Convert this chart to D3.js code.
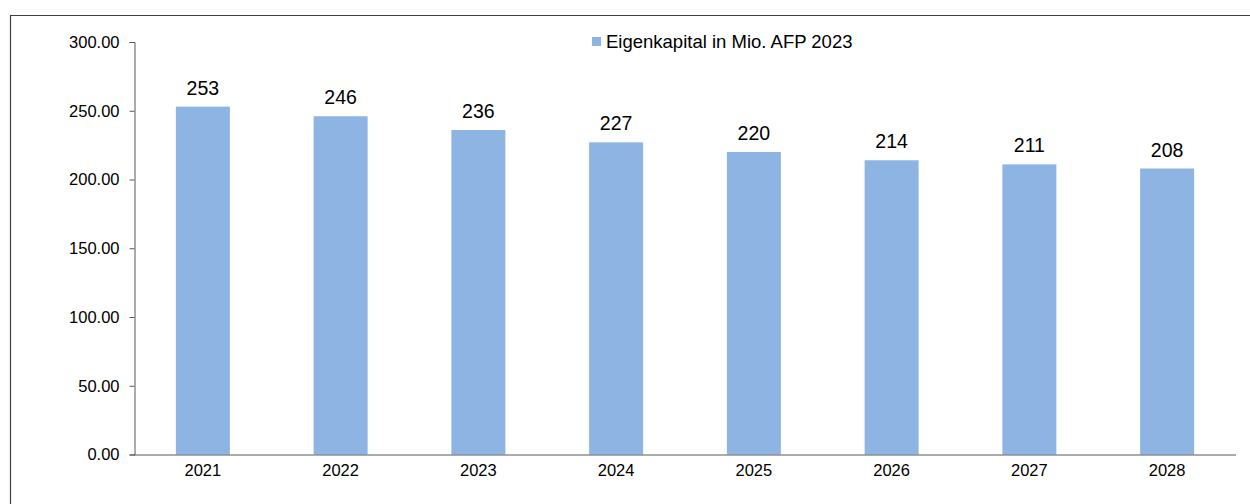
<!DOCTYPE html>
<html lang="de">
<head>
<meta charset="UTF-8">
<title>Eigenkapital</title>
<script src="https://d3js.org/d3.v7.min.js"></script>
<style>
  body { margin: 0; background: #fff; }
  svg text { font-family: "Liberation Sans", Arial, sans-serif; fill: #000; }
</style>
</head>
<body>
<svg id="chart" width="1250" height="504"></svg>
<script>
// data
var years = ["2021", "2022", "2023", "2024", "2025", "2026", "2027", "2028"];
var eigenkapital = [253, 246, 236, 227, 220, 214, 211, 208];
var yTicks = [0, 50, 100, 150, 200, 250, 300];
var seriesName = "Eigenkapital in Mio. AFP 2023";

const width = 1250, height = 504;
const margin = { top: 42, right: 14, bottom: 49.5, left: 134 };
const barColor = "#8eb4e3";

const svg = d3.select("#chart");

// outer frame (top + left edges visible)
svg.append("path")
   .attr("d", `M10.5,${height} L10.5,15.5 L${width},15.5`)
   .attr("fill", "none")
   .attr("stroke", "#404040")
   .attr("stroke-width", 1.2);

const x = d3.scaleBand()
    .domain(years)
    .range([margin.left, width - margin.right])
    .paddingInner(0.608)
    .paddingOuter(0.304);

const y = d3.scaleLinear()
    .domain([0, 300])
    .range([height - margin.bottom, margin.top]);

// bars
svg.selectAll("rect.bar")
   .data(eigenkapital)
   .enter()
   .append("rect")
   .attr("class", "bar")
   .attr("x", (d, i) => x(years[i]))
   .attr("y", d => y(d))
   .attr("width", x.bandwidth())
   .attr("height", d => y(0) - y(d))
   .attr("fill", barColor);

// value labels
svg.selectAll("text.val")
   .data(eigenkapital)
   .enter()
   .append("text")
   .attr("class", "val")
   .attr("x", (d, i) => x(years[i]) + x.bandwidth() / 2)
   .attr("y", d => y(d) - 12)
   .attr("text-anchor", "middle")
   .style("font-size", "19.5px")
   .text(d => d);

// y axis
const yAxis = svg.append("g")
   .attr("transform", `translate(${margin.left + 0.5},0)`)
   .call(d3.axisLeft(y).tickValues(yTicks).tickFormat(d3.format(".2f")).tickSize(5).tickPadding(10));
yAxis.select(".domain").attr("stroke", "#595959");
yAxis.selectAll(".tick line").attr("stroke", "#595959");
yAxis.selectAll(".tick text")
   .style("font-size", "16.5px")
   .attr("fill", "#000");

// x axis
const xAxis = svg.append("g")
   .attr("transform", `translate(0,${y(0) + 0.5})`)
   .call(d3.axisBottom(x).tickSize(0).tickPadding(9));
xAxis.select(".domain").attr("stroke", "#595959").attr("d", `M${margin.left},0H${width - margin.right}`);
xAxis.selectAll(".tick text")
   .style("font-size", "16.5px")
   .attr("fill", "#000");

// legend
const legend = svg.append("g").attr("transform", "translate(592,37)");
legend.append("rect")
   .attr("width", 9).attr("height", 9)
   .attr("fill", barColor);
legend.append("text")
   .attr("x", 14).attr("y", 10.5)
   .style("font-size", "18.5px")
   .text(seriesName);
</script>
</body>
</html>
